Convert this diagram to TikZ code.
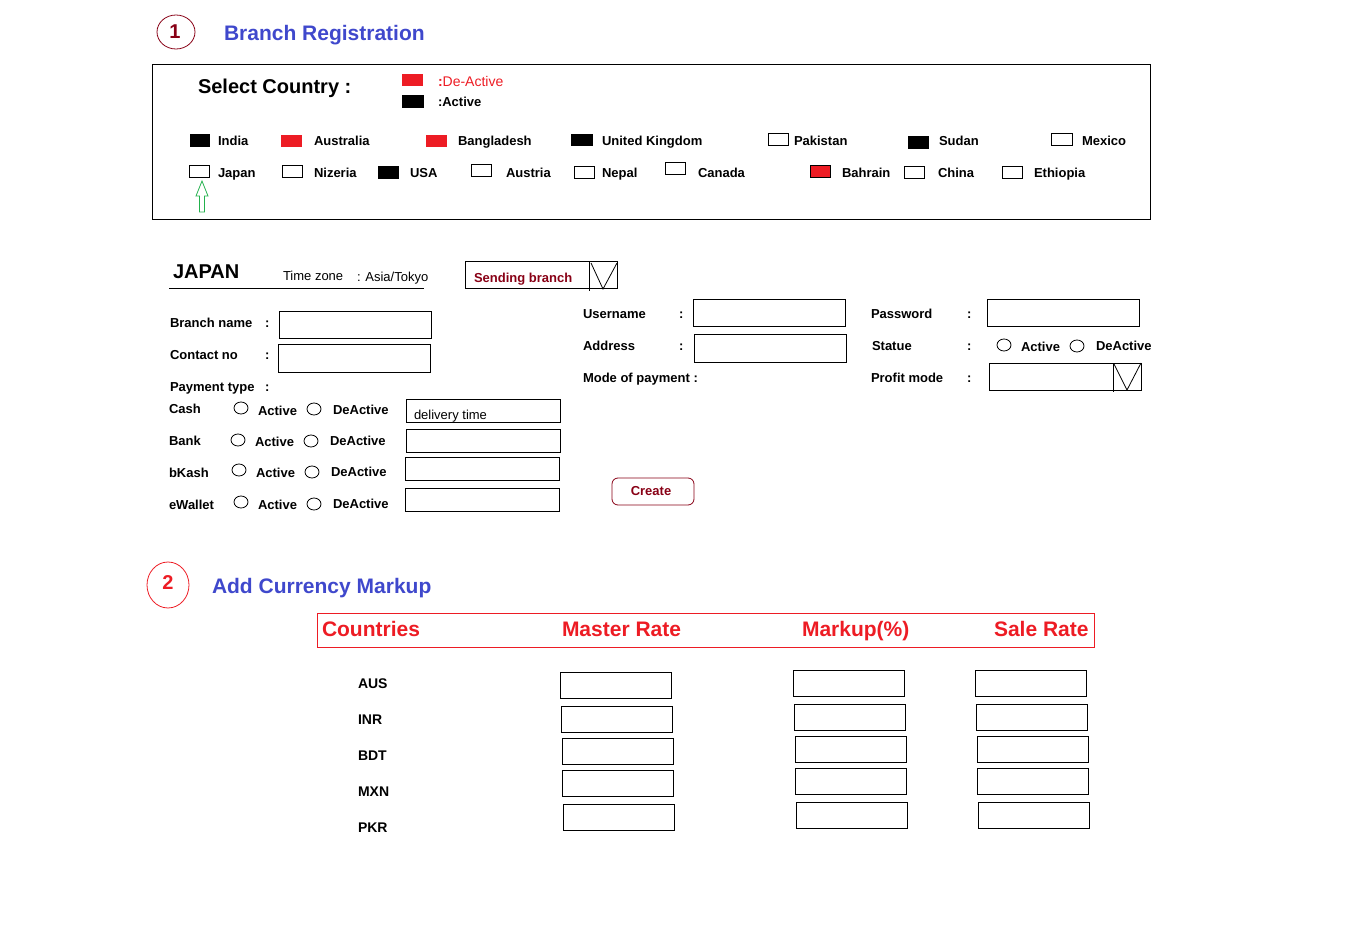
\documentclass[tikz,border=0pt]{standalone}
\usepackage{fontspec}
\setmainfont{Liberation Sans}
\usetikzlibrary{shapes.geometric}
\definecolor{pblue}{HTML}{3F48CC}
\definecolor{pred}{HTML}{ED1C24}
\definecolor{pdark}{HTML}{880015}
\definecolor{pgreen}{HTML}{22B14C}
\newcommand\boxat[6]{\node[#1, minimum width={(#5-#3)*1pt}, minimum height={(#6-#4)*1pt}] (#2) at ({(#3+#5)/2},{(#4+#6)/2}) {};}
\newcommand\fs[1]{\fontsize{#1}{#1}\selectfont}
\tikzset{
  every node/.style={inner sep=0pt, outer sep=0pt},
  lbl/.style={anchor=mid west, yshift=-3pt, font=\fs{13}\bfseries},
  rlbl/.style={anchor=mid west, yshift=-3pt, font=\fs{13}},
  big/.style={anchor=mid west, yshift=-5pt, font=\fs{20}\bfseries},
  fld/.style={draw=black, line width=1pt},
  chkoff/.style={draw=black, line width=1pt},
  chkblack/.style={draw=black, fill=black, line width=1pt},
  chkred/.style={fill=pred},
  chkredb/.style={draw=black, fill=pred, line width=1pt},
  radio/.style={draw=black, line width=0.8pt, ellipse, minimum width=14pt, minimum height=12pt},
  title/.style={anchor=mid west, yshift=-5pt, font=\fs{21}\bfseries, text=pblue},
  hdr/.style={anchor=mid west, yshift=-5pt, font=\fs{21}\bfseries, text=pred},
  thin/.style={line width=1pt}
}
\begin{document}
\begin{tikzpicture}[x=1pt,y=-1pt]
\useasboundingbox (0,0) rectangle (1347,933);

% ---------- Section 1 ----------
\node[draw=pdark, line width=0.8pt, ellipse, minimum width=38pt, minimum height=34pt] (c1) at (176,32) {};
\node[font=\fs{20}\bfseries, text=pdark] (c1t) at (175,32) {1};
\node[title] (t1) at (224,33) {Branch Registration};

\boxat{fld}{outer}{152}{65}{1150}{220}
\node[big] (selc) at (198,86) {Select Country :};
\boxat{chkred}{legred}{402}{74}{423}{86}
\boxat{chkblack}{legblack}{402}{96}{423}{108}
\node[anchor=mid west, yshift=-3pt, font=\fs{14}, text=pred] (legdt) at (438,81) {{\bfseries :}De-Active};
\node[lbl] (legat) at (438,101) {:Active};

% row 1
\boxat{chkblack}{bIndia}{190}{135}{209}{147}
\node[lbl] (lIndia) at (218,140) {India};
\boxat{chkred}{bAus}{281}{135}{302}{147}
\node[lbl] (lAus) at (314,140) {Australia};
\boxat{chkred}{bBan}{426}{135}{447}{147}
\node[lbl] (lBan) at (458,140) {Bangladesh};
\boxat{chkblack}{bUK}{571}{135}{592}{146}
\node[lbl] (lUK) at (602,140) {United Kingdom};
\boxat{chkoff}{bPak}{768}{134}{788}{146}
\node[lbl] (lPak) at (794,140) {Pakistan};
\boxat{chkblack}{bSud}{908}{137}{928}{149}
\node[lbl] (lSud) at (939,140) {Sudan};
\boxat{chkoff}{bMex}{1051}{134}{1072}{146}
\node[lbl] (lMex) at (1082,140) {Mexico};
% row 2
\boxat{chkoff}{bJap}{189}{166}{209}{178}
\node[lbl] (lJap) at (218,172) {Japan};
\boxat{chkoff}{bNiz}{282}{166}{302}{178}
\node[lbl] (lNiz) at (314,172) {Nizeria};
\boxat{chkblack}{bUSA}{378}{167}{398}{179}
\node[lbl] (lUSA) at (410,172) {USA};
\boxat{chkoff}{bAut}{471}{165}{491}{177}
\node[lbl] (lAut) at (506,172) {Austria};
\boxat{chkoff}{bNep}{574}{167}{594}{179}
\node[lbl] (lNep) at (602,172) {Nepal};
\boxat{chkoff}{bCan}{665}{163}{685}{175}
\node[lbl] (lCan) at (698,172) {Canada};
\boxat{chkredb}{bBah}{810}{166}{830}{178}
\node[lbl] (lBah) at (842,172) {Bahrain};
\boxat{chkoff}{bChi}{904}{167}{924}{179}
\node[lbl] (lChi) at (938,172) {China};
\boxat{chkoff}{bEth}{1002}{167}{1022}{179}
\node[lbl] (lEth) at (1034,172) {Ethiopia};

% green hollow arrow pointing at Japan
\draw[pgreen, line width=0.8pt] (199.5,212) -- (199.5,196) -- (196,196) -- (202,181) -- (208,196) -- (204.5,196) -- (204.5,212) -- cycle;

% ---------- Japan form ----------
\node[big] (jp) at (173,271) {JAPAN};
\node[rlbl] (tz) at (283,275) {Time zone};
\node[rlbl] (tzv) at (357,276) {: Asia/Tokyo};
\coordinate (ulA) at (169,289);
\coordinate (ulB) at (424,289);
\draw[thin] (ulA) -- (ulB);

\boxat{fld}{send}{465}{262}{617}{289}
\node[lbl, text=pdark] (sendt) at (474,277) {Sending branch};
\coordinate (sv1) at (589,262); \coordinate (sv2) at (589,291);
\coordinate (sv3) at (591,263); \coordinate (sv4) at (603,289); \coordinate (sv5) at (617,263);
\draw[line width=0.8pt] (sv1) -- (sv2);
\draw[line width=0.8pt] (sv3) -- (sv4) -- (sv5);

\node[lbl] (bnl) at (170,322) {Branch name};
\node[lbl] (bnc) at (265,322) {:};
\boxat{fld}{bnf}{279}{312}{431}{339}
\node[lbl] (cnl) at (170,354) {Contact no};
\node[lbl] (cnc) at (265,354) {:};
\boxat{fld}{cnf}{278}{345}{430}{372}
\node[lbl] (ptl) at (170,386) {Payment type};
\node[lbl] (ptc) at (265,386) {:};

% Cash
\node[lbl] (cash) at (169,408) {Cash};
\node[radio] (cashA) at (241,408) {};
\node[lbl] (cashAt) at (258,410) {Active};
\node[radio] (cashD) at (314,409) {};
\node[lbl] (cashDt) at (333,409) {DeActive};
\boxat{fld}{cashF}{406}{399}{560}{422}
\node[rlbl] (cashFt) at (414,414) {delivery time};
% Bank
\node[lbl] (bank) at (169,440) {Bank};
\node[radio] (bankA) at (238,440) {};
\node[lbl] (bankAt) at (255,441) {Active};
\node[radio] (bankD) at (311,441) {};
\node[lbl] (bankDt) at (330,440) {DeActive};
\boxat{fld}{bankF}{406}{429}{560}{452}
% bKash
\node[lbl] (bk) at (169,472) {bKash};
\node[radio] (bkA) at (239,470) {};
\node[lbl] (bkAt) at (256,472) {Active};
\node[radio] (bkD) at (312,472) {};
\node[lbl] (bkDt) at (331,471) {DeActive};
\boxat{fld}{bkF}{405}{457}{559}{480}
% eWallet
\node[lbl] (ew) at (169,504) {eWallet};
\node[radio] (ewA) at (241,502) {};
\node[lbl] (ewAt) at (258,504) {Active};
\node[radio] (ewD) at (314,504) {};
\node[lbl] (ewDt) at (333,503) {DeActive};
\boxat{fld}{ewF}{405}{488}{559}{511}

% right columns
\node[lbl] (unl) at (583,313) {Username};
\node[lbl] (unc) at (679,313) {:};
\boxat{fld}{unf}{693}{300}{845}{327}
\node[lbl] (adl) at (583,345) {Address};
\node[lbl] (adc) at (679,345) {:};
\boxat{fld}{adf}{694}{335}{846}{362}
\node[lbl] (mpl) at (583,377) {Mode of payment :};

\node[lbl] (pwl) at (871,313) {Password};
\node[lbl] (pwc) at (967,313) {:};
\boxat{fld}{pwf}{987}{300}{1139}{327}
\node[lbl] (stl) at (872,345) {Statue};
\node[lbl] (stc) at (967,345) {:};
\node[radio] (stA) at (1004,345) {};
\node[lbl] (stAt) at (1021,346) {Active};
\node[radio] (stD) at (1077,346) {};
\node[lbl] (stDt) at (1096,345) {DeActive};
\node[lbl] (pml) at (871,377) {Profit mode};
\node[lbl] (pmc) at (967,377) {:};
\boxat{fld}{pmf}{989}{363}{1141}{390}
\coordinate (pv1) at (1113,363); \coordinate (pv2) at (1113,392);
\coordinate (pv3) at (1114,364); \coordinate (pv4) at (1127,390); \coordinate (pv5) at (1141,363);
\draw[line width=0.8pt] (pv1) -- (pv2);
\draw[line width=0.8pt] (pv3) -- (pv4) -- (pv5);

\node[draw=pdark, line width=0.8pt, rounded corners=6pt, minimum width=82pt, minimum height=27pt] (create) at (653,491.5) {};
\node[font=\fs{13}\bfseries, text=pdark] (createt) at (651,491) {Create};

% ---------- Section 2 ----------
\node[draw=pred, line width=0.8pt, ellipse, minimum width=42pt, minimum height=46pt] (c2) at (168,585) {};
\node[font=\fs{20}\bfseries, text=pred] (c2t) at (168,583) {2};
\node[title] (t2) at (212,586) {Add Currency Markup};

\boxat{draw=pred, line width=1pt}{hbox}{317}{613}{1094}{647}
\node[hdr] (hC) at (322,629) {Countries};
\node[hdr] (hM) at (562,629) {Master Rate};
\node[hdr] (hK) at (802,629) {Markup(\%)};
\node[hdr] (hS) at (994,629) {Sale Rate};

\node[lbl, font=\fs{14}\bfseries] (aus) at (358,683) {AUS};
\node[lbl, font=\fs{14}\bfseries] (inr) at (358,719) {INR};
\node[lbl, font=\fs{14}\bfseries] (bdt) at (358,755) {BDT};
\node[lbl, font=\fs{14}\bfseries] (mxn) at (358,791) {MXN};
\node[lbl, font=\fs{14}\bfseries] (pkr) at (358,827) {PKR};

\boxat{fld}{m1}{560}{672}{671}{698}
\boxat{fld}{m2}{561}{706}{672}{732}
\boxat{fld}{m3}{562}{738}{673}{764}
\boxat{fld}{m4}{562}{770}{673}{796}
\boxat{fld}{m5}{563}{804}{674}{830}

\boxat{fld}{k1}{793}{670}{904}{696}
\boxat{fld}{k2}{794}{704}{905}{730}
\boxat{fld}{k3}{795}{736}{906}{762}
\boxat{fld}{k4}{795}{768}{906}{794}
\boxat{fld}{k5}{796}{802}{907}{828}

\boxat{fld}{s1}{975}{670}{1086}{696}
\boxat{fld}{s2}{976}{704}{1087}{730}
\boxat{fld}{s3}{977}{736}{1088}{762}
\boxat{fld}{s4}{977}{768}{1088}{794}
\boxat{fld}{s5}{978}{802}{1089}{828}
\end{tikzpicture}
\end{document}
